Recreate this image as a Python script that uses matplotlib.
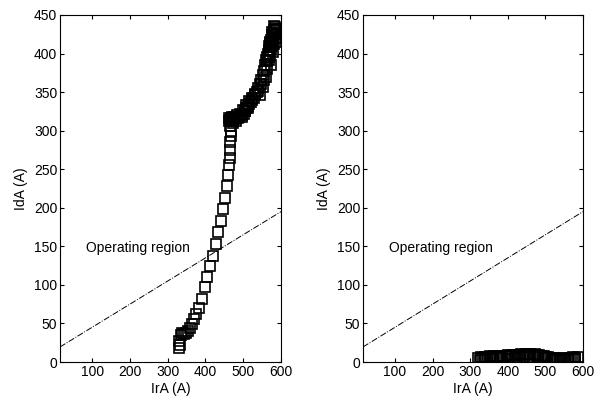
import numpy as np
import matplotlib.pyplot as plt

plt.rcParams['font.family'] = ['Liberation Sans', 'DejaVu Sans']

# left panel: measured IdA vs IrA (open squares)
ira_left = [330, 333, 336, 331, 338, 342, 348, 355, 360, 365, 370, 375, 383, 390,
            398, 405, 412, 420, 428, 434, 440, 446, 452, 456, 460, 462, 464, 465,
            466, 467, 468, 466, 462, 465, 470, 474, 478, 482, 486, 490, 494, 498,
            502, 505, 508, 512, 516, 520, 524, 528, 532, 536, 540, 544, 548, 552,
            555, 558, 561, 563, 565, 567, 569, 571, 573, 575, 577, 579, 581, 583,
            585, 580, 576, 572, 568, 584, 586, 582, 578, 574,
            470, 476, 484, 492, 500, 508, 516, 524, 532, 540, 548, 556, 562, 568,
            574, 580, 586, 586, 588, 588, 462, 468, 472, 480, 496, 504, 512, 570,
            576, 582, 564, 560, 552, 544]
ida_left = [18, 22, 35, 27, 37, 36, 38, 40, 44, 49, 56, 62, 70, 82,
            97, 110, 124, 138, 153, 168, 183, 198, 213, 228, 242, 255, 265, 275,
            285, 293, 300, 306, 312, 314, 312, 313, 315, 316, 316, 318, 320, 320,
            322, 325, 330, 332, 335, 337, 340, 343, 346, 350, 355, 360, 366, 372,
            378, 385, 391, 396, 400, 405, 410, 414, 417, 420, 424, 427, 430, 432,
            434, 420, 410, 400, 392, 425, 430, 412, 402, 385,
            318, 318, 320, 322, 327, 333, 338, 342, 348, 352, 360, 366, 380, 395,
            405, 418, 425, 415, 432, 420, 316, 316, 310, 312, 318, 326, 330, 415,
            428, 436, 390, 370, 356, 346]

# right panel: IdA stays near zero
ira_right = [322, 328, 334, 340, 346, 352, 358, 364, 370, 376, 382, 388, 394, 400,
             406, 412, 418, 424, 430, 436, 442, 448, 454, 460, 466, 472, 478, 484,
             490, 496, 502, 508, 514, 520, 526, 532, 538, 544, 550, 556, 562, 568,
             574, 580, 586, 325, 340, 360, 380, 400, 420, 440, 460, 480, 500, 520,
             540, 560, 580]
ida_right = [5, 6, 5, 7, 6, 8, 7, 8, 7, 8, 7, 8, 8, 9,
             8, 9, 9, 8, 9, 10, 9, 10, 10, 10, 9, 10, 9, 9,
             8, 8, 7, 6, 5, 5, 4, 5, 4, 4, 5, 4, 5, 5,
             6, 5, 6, 3, 4, 4, 5, 4, 5, 6, 7, 6, 5, 3,
             2, 3, 4]

# operating region boundary line
line_x = np.array([15, 600])
line_y = 0.3 * line_x + 15

fig = plt.figure(figsize=(5.95, 3.96), dpi=100)
ax1 = fig.add_axes([60/595, 34/396, 221/595, 347/396])
ax2 = fig.add_axes([363/595, 34/396, 220/595, 347/396])

for ax, xs, ys in [(ax1, ira_left, ida_left), (ax2, ira_right, ida_right)]:
    ax.plot(xs, ys, 's', mfc='none', mec='black', ms=6.5, mew=1.2)
    ax.plot(line_x, line_y, '-.', color='black', lw=0.7)
    ax.text(85, 148, 'Operating region', fontsize=10, va='center')
    ax.set_xlim(15, 600)
    ax.set_ylim(0, 450)
    ax.set_xticks([100, 200, 300, 400, 500, 600])
    ax.set_yticks(range(0, 451, 50))
    ax.tick_params(direction='in', top=True, right=True, length=3, labelsize=10, pad=2)
    ax.set_xlabel('IrA (A)', fontsize=10, labelpad=2)
    ax.set_ylabel('IdA (A)', fontsize=10, labelpad=4)
    for s in ax.spines.values():
        s.set_linewidth(0.8)

fig.savefig('out.png', dpi=100)
